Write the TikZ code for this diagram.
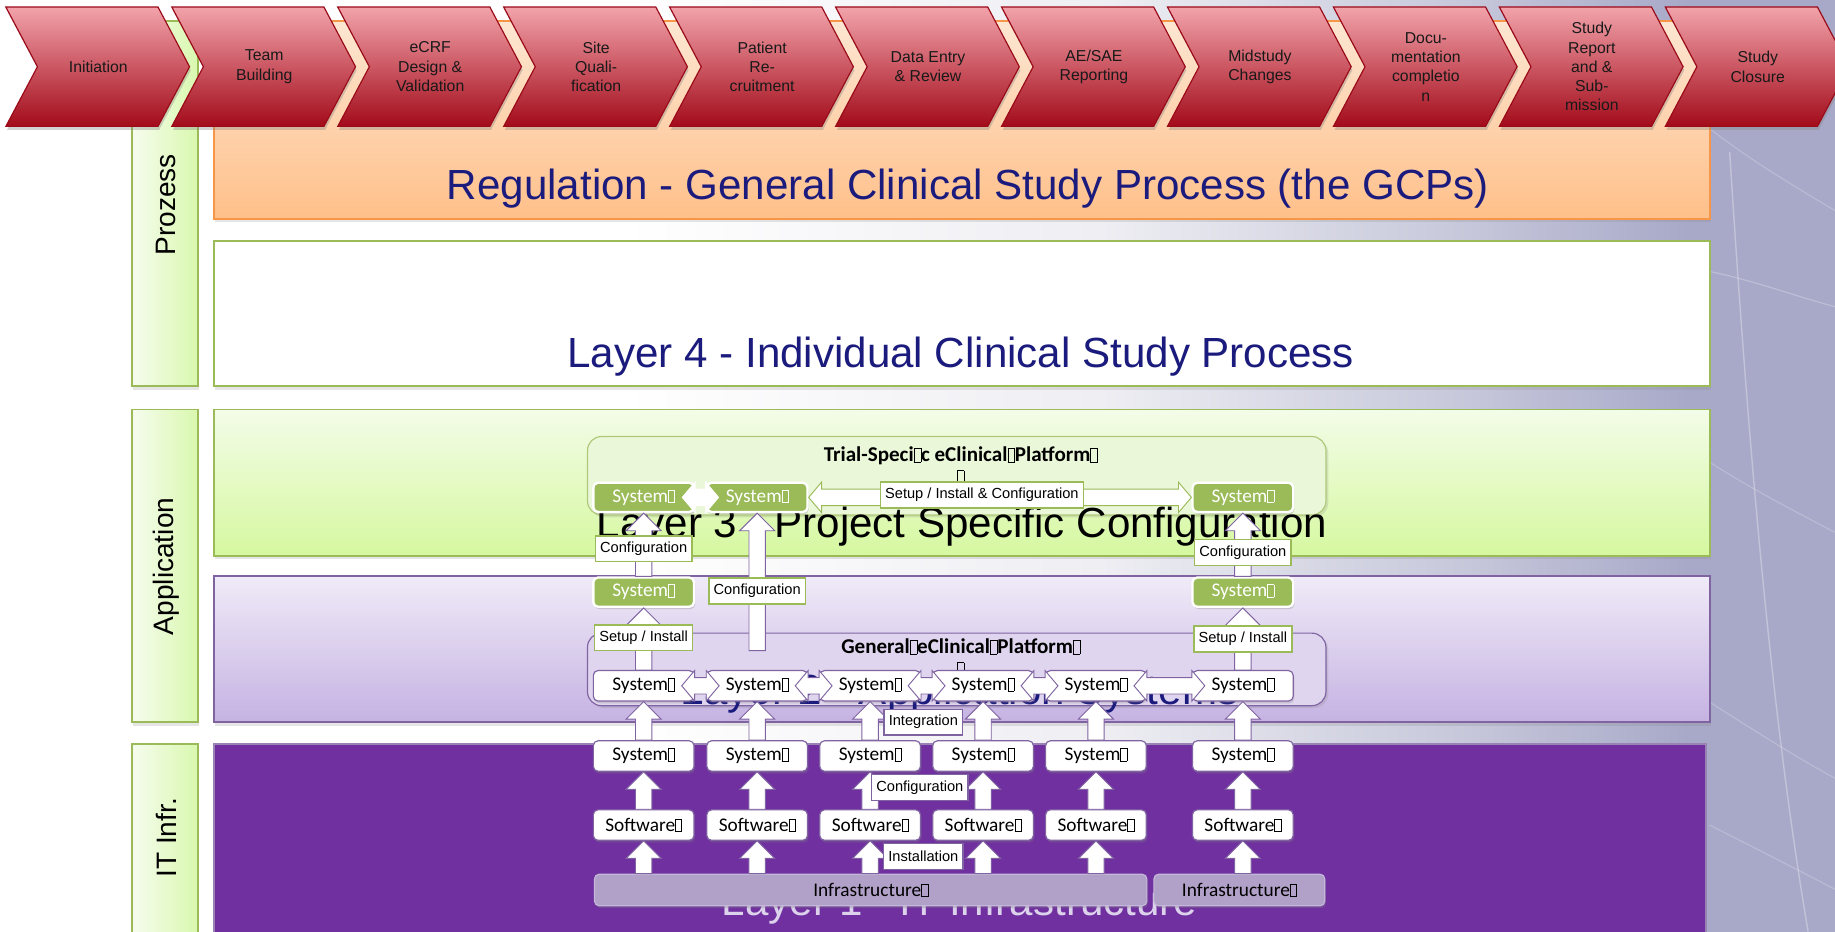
\documentclass[tikz,border=0pt]{standalone}
\usepackage{fontspec}
\setmainfont{Liberation Sans}
\newfontfamily\calibri{Carlito}
\usetikzlibrary{calc,shadows,positioning}

\definecolor{navytext}{HTML}{1B1B7E}
\definecolor{grnline}{HTML}{9BBB59}
\definecolor{grnfill}{HTML}{9BBB59}
\definecolor{purline}{HTML}{8064A2}
\definecolor{purdeep}{HTML}{7030A0}
\definecolor{infrafill}{HTML}{B1A0C7}
\definecolor{infraline}{HTML}{C4B8DA}
\definecolor{chevtop}{HTML}{F2A3AB}
\definecolor{chevbot}{HTML}{A30B1A}
\definecolor{chevline}{HTML}{9A0A18}
\definecolor{orgtop}{HTML}{FDE6D2}
\definecolor{orgbot}{HTML}{FFC08A}
\definecolor{orgline}{HTML}{F79646}
\definecolor{ltgtop}{HTML}{F3FCE8}
\definecolor{ltgbot}{HTML}{D6F8A0}
\definecolor{lavtop}{HTML}{F0EBF8}
\definecolor{lavbot}{HTML}{C5B2E2}
\definecolor{sidel}{HTML}{F6FCEE}
\definecolor{sider}{HTML}{D9F8AE}
\definecolor{tpfill}{HTML}{EAF7D8}
\definecolor{gpfill}{HTML}{DFD5EF}
\definecolor{lowtext}{HTML}{DCD2EC}
\definecolor{bgright}{HTML}{A8A9C8}
\definecolor{bgmid}{HTML}{C6C7DA}
\definecolor{bglight}{HTML}{EEEEF3}

% the path covers 25bp..75bp of the shading
\pgfdeclarehorizontalshading{bgshade}{100bp}{color(0bp)=(white); color(25bp)=(white); color(42bp)=(white); color(55bp)=(bglight); color(65bp)=(bgmid); color(71bp)=(bgright); color(100bp)=(bgright)}

% box for the glyph the font does not have
\newcommand{\nog}{{\setlength{\fboxsep}{0pt}\setlength{\fboxrule}{0.45pt}\fbox{\rule{0pt}{0.62em}\hspace{0.3em}}}}

\begin{document}
\begin{tikzpicture}[x=1pt,y=-1pt,
    chevron/.style={draw=chevline,line width=1pt,top color=chevtop,bottom color=chevbot,
      drop shadow={opacity=0.35,shadow xshift=1pt,shadow yshift=-3pt}},
    chevtext/.style={align=center,font=\fontsize{13.5}{16.5}\selectfont,text=black!90},
    sidebox/.style={draw=grnline,line width=1.5pt,left color=sidel,right color=sider,
      drop shadow={opacity=0.2,shadow xshift=1pt,shadow yshift=-3pt}},
    sidetext/.style={rotate=90,font=\fontsize{24}{28}\selectfont},
    layerbox/.style={line width=1.5pt,drop shadow={opacity=0.2,shadow xshift=1pt,shadow yshift=-3pt}},
    layertext/.style={font=\fontsize{36}{40}\selectfont},
    platform/.style={rounded corners=12pt,line width=1pt,
      drop shadow={opacity=0.2,shadow xshift=2pt,shadow yshift=-2pt}},
    plattitle/.style={align=center,font=\calibri\bfseries\fontsize{18}{19}\selectfont},
    gsys/.style={fill=grnfill,draw=white,line width=2pt,rounded corners=4pt,text=white,
      minimum width=86pt,minimum height=25pt,inner sep=0pt,
      font=\calibri\fontsize{16.5}{18}\selectfont,
      drop shadow={opacity=0.3,shadow xshift=1pt,shadow yshift=-2pt}},
    wsys/.style={fill=white,draw=purline,line width=1pt,rounded corners=4pt,
      minimum width=86pt,minimum height=26pt,inner sep=0pt,
      font=\calibri\fontsize{16.5}{18}\selectfont,
      drop shadow={opacity=0.25,shadow xshift=1pt,shadow yshift=-2pt}},
    infra/.style={fill=infrafill,draw=infraline,line width=1pt,rounded corners=4pt,
      minimum height=27pt,inner sep=0pt,font=\calibri\fontsize{16.5}{18}\selectfont,
      drop shadow={opacity=0.3,shadow xshift=1pt,shadow yshift=-2pt}},
    lbl/.style={fill=white,draw=#1,line width=1.2pt,inner xsep=4pt,inner ysep=0pt,
      minimum height=22pt,font=\fontsize{12.5}{14}\selectfont},
    lbl/.default=grnline,
    uparr/.style={fill=white,draw=#1,line width=0.8pt,
      to path={let \p1=(\tikztostart), \p2=(\tikztotarget) in
        (\x1-7pt,\y1) -- (\x1-7pt,\y2-15pt) -- (\x1-15pt,\y2-15pt) -- (\x1,\y2)
        -- (\x1+15pt,\y2-15pt) -- (\x1+7pt,\y2-15pt) -- (\x1+7pt,\y1) -- cycle}},
    uparr/.default=purline,
    dblarr/.style={fill=white,draw=#1,line width=0.8pt,
      to path={let \p1=(\tikztostart), \p2=(\tikztotarget) in
        (\x1,\y1) -- (\x1+11pt,\y1+13pt) -- (\x1+11pt,\y1+7pt) -- (\x2-11pt,\y1+7pt)
        -- (\x2-11pt,\y1+13pt) -- (\x2,\y1) -- (\x2-11pt,\y1-13pt) -- (\x2-11pt,\y1-7pt)
        -- (\x1+11pt,\y1-7pt) -- (\x1+11pt,\y1-13pt) -- cycle}},
    dblarr/.default=purline]

\useasboundingbox (0,0) rectangle (1568,796);
\shade[shading=bgshade] (0,0) rectangle (1568,796);
% background lines
\draw[white,opacity=0.3,line width=1.2pt] (1478,130) .. controls (1495,400) and (1515,620) .. (1545,796);
\draw[white,opacity=0.25,line width=1pt] (1461,232) .. controls (1500,240) and (1540,255) .. (1568,262);
\draw[white,opacity=0.2,line width=1pt] (1461,110) .. controls (1500,140) and (1535,160) .. (1568,180);
\draw[white,opacity=0.2,line width=1pt] (1461,395) .. controls (1500,420) and (1540,440) .. (1568,455);
\draw[white,opacity=0.2,line width=1pt] (1461,600) .. controls (1500,625) and (1540,650) .. (1568,665);
\draw[white,opacity=0.2,line width=1pt] (1461,705) .. controls (1500,725) and (1540,745) .. (1568,760);

% side labels
\path[sidebox] (113,18) rectangle (169,330);
\path[sidebox] (113,350) rectangle (169,617);
\path[sidebox] (113,636) rectangle (169,800);
\node[sidetext] (prozess) at (142,175) {Prozess};
\node[sidetext] (appl) at (142,484) {Application};
\node[sidetext] (itinfr) at (142,716) {IT Infr.};

% layers
\path[layerbox,draw=orgline,top color=orgtop,bottom color=orgbot] (183,18) rectangle (1461,187);
\path[layerbox,draw=grnline,fill=white] (183,206) rectangle (1461,330);
\path[layerbox,draw=grnline,top color=ltgtop,bottom color=ltgbot] (183,350) rectangle (1461,475);
\path[layerbox,draw=purline,top color=lavtop,bottom color=lavbot] (183,492) rectangle (1461,617);
\path[layerbox,draw=purline!80,fill=purdeep] (183,636) rectangle (1458,800);
\node[layertext,text=navytext] (gcp) at (827,161) {Regulation - General Clinical Study Process (the GCPs)};
\node[layertext,text=navytext] (layer4) at (821,305) {Layer 4 - Individual Clinical Study Process};

% process steps
\foreach \txt [count=\i] in {Initiation, {Team\\Building}, {eCRF\\Design \&\\Validation},
    {Site\\Quali-\\fication}, {Patient\\Re-\\cruitment}, {Data Entry\\\& Review},
    {AE/SAE\\Reporting}, {Midstudy\\Changes}, {Docu-\\mentation\\completio\\n},
    {Study\\Report\\and \&\\Sub-\\mission}, {Study\\Closure}} {
  \pgfmathsetmacro\xo{5+141.8*(\i-1)}
  \path[chevron] (\xo,6) -- ++(130,0) -- ++(27,51) -- ++(-27,51) -- ++(-130,0) -- ++(27,-51) -- cycle;
  \node[chevtext] (ph\i) at (\xo+79,57) {\txt};
}

% platforms
\path[platform,draw=grnline!80,fill=tpfill] (502,373) rectangle (1133,440);
\node[plattitle] (tptitle) at (821,398) {Trial-Speci\nog c eClinical\nog Platform\nog\\\nog};
\path[platform,draw=purline,fill=gpfill] (502,541) rectangle (1133,603);
\node[plattitle] (gptitle) at (821,562) {General\nog eClinical\nog Platform\nog\\\nog};
\node[layertext,text=black] (layer3) at (822,450) {Layer 3 - Project Specific Configuration};
\node[layertext,text=navytext] (layer2) at (820,593) {Layer 2 - Application Systems};
\node[layertext,text=lowtext] (layer1) at (820,773) {Layer 1 - IT Infrastructure};

% systems
\node[gsys] (ga1) at (550,425) {System\nog};
\node[gsys] (ga2) at (647,425) {System\nog};
\node[gsys] (ga3) at (1062,425) {System\nog};
\node[gsys] (gb1) at (550,506) {System\nog};
\node[gsys] (gb2) at (1062,506) {System\nog};
\foreach \cx [count=\i] in {550,647,743.5,840,936.5,1062} {
  \node[wsys] (c\i) at (\cx,586) {System\nog};
  \node[wsys] (d\i) at (\cx,646) {System\nog};
  \node[wsys] (e\i) at (\cx,705) {Software\nog};
}
\node[infra,minimum width=472pt] (inf1) at (744,760.5) {Infrastructure\nog};
\node[infra,minimum width=146pt] (inf2) at (1059,760.5) {Infrastructure\nog};

% arrows
\foreach \i in {1,...,6} {
  \path[uparr] (d\i.north) to (c\i.south);
  \path[uparr] (e\i.north) to (d\i.south);
}
\foreach \i in {1,...,5}
  \path[uparr] (inf1.north -| e\i) to (e\i.south);
\path[uparr] (inf2.north -| e6) to (e6.south);
\foreach \i [evaluate=\i as \j using int(\i+1)] in {1,...,5}
  \path[dblarr] ([xshift=-11pt]c\i.east) to ([xshift=11pt]c\j.west);
\path[uparr] (c1.north) to (gb1.south);
\path[uparr] (c6.north) to (gb2.south);
\path[uparr] (gb1.north) to (ga1.south);
\path[uparr] (gb2.north) to (ga3.south);
\coordinate (cfgfoot) at (647,556);
\path[uparr] (cfgfoot) to (ga2.south);
\path[dblarr=white] ([xshift=-11pt]ga1.east) to ([xshift=11pt]ga2.west);
\path[dblarr=grnline] (ga2.east) to (ga3.west);

% labels
\node[lbl] (cfga) at (550,469) {Configuration};
\node[lbl] (cfgb) at (1062,472) {Configuration};
\node[lbl] (cfgc) at (647,505) {Configuration};
\node[lbl] (setupa) at (550,545) {Setup / Install};
\node[lbl] (setupb) at (1062,546) {Setup / Install};
\node[lbl] (setupall) at (839,423) {Setup / Install \& Configuration};
\node[lbl=purline] (integ) at (789,617) {Integration};
\node[lbl=purline] (cfgd) at (786,673) {Configuration};
\node[lbl=purline] (instl) at (789,732) {Installation};
\end{tikzpicture}
\end{document}
